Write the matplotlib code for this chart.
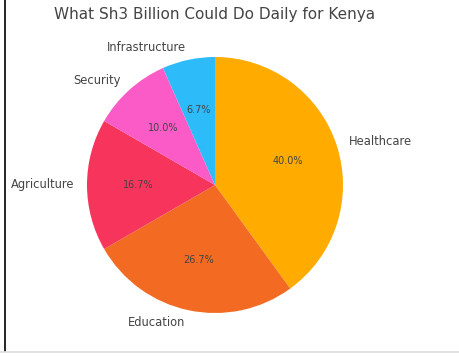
import matplotlib
matplotlib.use('Agg')
import matplotlib.pyplot as plt
from matplotlib.lines import Line2D

# Sector shares of Sh3 billion (billions)
sectors = ['Healthcare', 'Education', 'Agriculture', 'Security', 'Infrastructure']
amounts = [1.2, 0.8, 0.5, 0.3, 0.2]
colors = ['#FFAB00', '#F36B22', '#F7345B', '#FA5BC6', '#2EBBF9']

fig = plt.figure(figsize=(4.6, 3.56), dpi=100)
ax = fig.add_axes([87 / 460, 1 - 313 / 356, 256 / 460, 256 / 356])

wedges, texts, autotexts = ax.pie(amounts, labels=sectors, colors=colors,
                                  autopct='%1.1f%%', startangle=90,
                                  counterclock=False)
for t in texts:
    t.set_fontsize(8.3)
    t.set_color('#444444')
for t in autotexts:
    t.set_fontsize(7)
    t.set_color('#444444')

ax.set_xlim(-1, 1)
ax.set_ylim(-1, 1)
ax.set_aspect('equal')
ax.axis('off')

fig.text(215 / 460, 1 - 15 / 356, 'What Sh3 Billion Could Do Daily for Kenya',
         ha='center', va='center', fontsize=11, color='#444444')

# screenshot edges
fig.add_artist(Line2D([4.5 / 460, 4.5 / 460], [1 - 351 / 356, 1], color='black', lw=1.2))
fig.add_artist(Line2D([0, 1], [1 - 351.5 / 356, 1 - 351.5 / 356], color='#dddddd', lw=1.2))

fig.savefig('out.png', dpi=100)
